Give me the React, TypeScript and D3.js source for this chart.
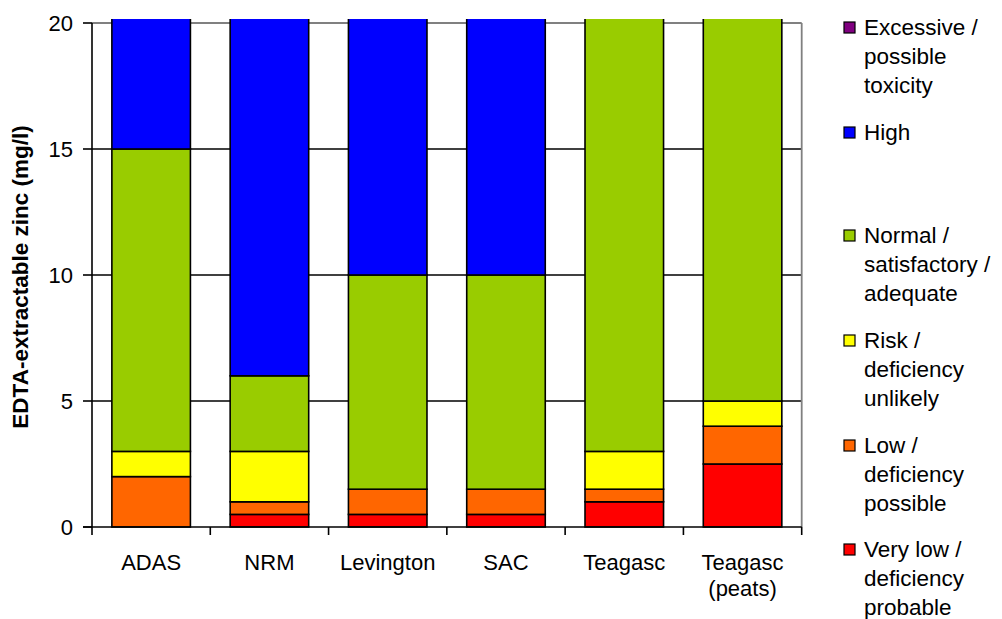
import React from "react";
import * as d3 from "d3";

const categories = ["ADAS", "NRM", "Levington", "SAC", "Teagasc", "Teagasc (peats)"];
const veryLow = [0, 0.5, 0.5, 0.5, 1, 2.5];
const low = [2, 0.5, 1, 1, 0.5, 1.5];
const risk = [1, 2, 0, 0, 1.5, 1];
const normal = [12, 3, 8.5, 8.5, 19, 17];
const high = [10, 19, 15, 15, 0, 0];
const excessive = [0, 0, 0, 0, 0, 0];
const yTicks = [0, 5, 10, 15, 20];

const seriesNames = [
  "Very low / deficiency probable",
  "Low / deficiency possible",
  "Risk / deficiency unlikely",
  "Normal / satisfactory / adequate",
  "High",
  "Excessive / possible toxicity",
];
const seriesValues = [veryLow, low, risk, normal, high, excessive];
const seriesColors = ["#FF0000", "#FF6600", "#FFFF00", "#99CC00", "#0000FF", "#800080"];

const legendItems = [
  { name: "Excessive / possible toxicity", lines: ["Excessive /", "possible", "toxicity"], color: "#800080" },
  { name: "High", lines: ["High"], color: "#0000FF" },
  { name: "Normal / satisfactory / adequate", lines: ["Normal /", "satisfactory /", "adequate"], color: "#99CC00" },
  { name: "Risk / deficiency unlikely", lines: ["Risk /", "deficiency", "unlikely"], color: "#FFFF00" },
  { name: "Low / deficiency possible", lines: ["Low /", "deficiency", "possible"], color: "#FF6600" },
  { name: "Very low / deficiency probable", lines: ["Very low /", "deficiency", "probable"], color: "#FF0000" },
];
const legendBaselines = [35, 140, 243, 348, 453, 557];

const W = 1002;
const H = 619;
const left = 92;
const right = 801.7;
const top = 23;
const bottom = 527;
const FONT = "Arial, 'Liberation Sans', sans-serif";

export default function App() {
  const x = d3.scaleBand<string>().domain(categories).range([left, right]).paddingInner(0.336).paddingOuter(0.168);
  const y = d3.scaleLinear().domain([0, 20]).range([bottom, top]);

  const rows = categories.map((c, i) => {
    const r: any = { cat: c };
    seriesNames.forEach((s, k) => (r[s] = seriesValues[k][i]));
    return r;
  });
  const stack = d3.stack<any>().keys(seriesNames)(rows);

  const clipTop = y(20) - 4;

  return (
    <svg width={W} height={H} style={{ position: "absolute", left: 0, top: 0, background: "#fff" }}>
      <defs>
        <clipPath id="plotclip">
          <rect x={0} y={clipTop} width={W} height={bottom - clipTop + 2} />
        </clipPath>
      </defs>
      {/* gridlines */}
      {yTicks.filter((t) => t > 0 && t < 20).map((t) => (
        <line key={t} x1={left} x2={right} y1={y(t)} y2={y(t)} stroke="#000" strokeWidth={1.6} />
      ))}
      <line x1={left} x2={right} y1={y(20)} y2={y(20)} stroke="#808080" strokeWidth={1.8} />
      <line x1={right} x2={right} y1={y(20)} y2={bottom} stroke="#808080" strokeWidth={1.8} />
      {/* bars */}
      <g clipPath="url(#plotclip)">
        {stack.map((layer, k) =>
          layer.map((d, i) => {
            const v = d[1] - d[0];
            if (v <= 0) return null;
            return (
              <rect
                key={k + "-" + i}
                x={x(categories[i])}
                width={x.bandwidth()}
                y={y(d[1])}
                height={y(d[0]) - y(d[1])}
                fill={seriesColors[k]}
                stroke="#000"
                strokeWidth={1.6}
              />
            );
          })
        )}
      </g>
      {/* axes */}
      <line x1={left} x2={left} y1={y(20)} y2={bottom} stroke="#000" strokeWidth={1.6} />
      <line x1={left - 9} x2={right} y1={bottom} y2={bottom} stroke="#000" strokeWidth={1.6} />
      {yTicks.map((t) => (
        <g key={t}>
          <line x1={left - 9} x2={left} y1={y(t)} y2={y(t)} stroke="#000" strokeWidth={1.6} />
          <text x={73} y={y(t)} dy="0.36em" textAnchor="end" fontFamily={FONT} fontSize={22} fill="#000">
            {t}
          </text>
        </g>
      ))}
      {categories.map((c, i) => {
        const x0 = left + i * x.step();
        return <line key={"t" + i} x1={x0} x2={x0} y1={bottom} y2={bottom + 8} stroke="#000" strokeWidth={1.6} />;
      })}
      <line x1={right} x2={right} y1={bottom} y2={bottom + 8} stroke="#000" strokeWidth={1.6} />
      {categories.map((c) => {
        const lines = c === "Teagasc (peats)" ? ["Teagasc", "(peats)"] : [c];
        return (
          <text key={c} x={(x(c) as number) + x.bandwidth() / 2} y={570} textAnchor="middle" fontFamily={FONT} fontSize={22} fill="#000">
            {lines.map((l, j) => (
              <tspan key={j} x={(x(c) as number) + x.bandwidth() / 2} dy={j === 0 ? 0 : 26}>
                {l}
              </tspan>
            ))}
          </text>
        );
      })}
      {/* y title */}
      <text
        transform={`translate(28, ${(top + bottom) / 2 + 2}) rotate(-90)`}
        textAnchor="middle"
        fontFamily={FONT}
        fontSize={22.5}
        fontWeight="bold"
        fill="#000"
      >
        EDTA-extractable zinc (mg/l)
      </text>
      {/* legend */}
      {legendItems.map((it, i) => {
        const b = legendBaselines[i];
        return (
          <g key={it.name}>
            <rect x={844} y={b - 13} width={11} height={11} fill={it.color} stroke="#000" strokeWidth={1.2} />
            <text x={864} y={b} fontFamily={FONT} fontSize={22.5} fill="#000">
              {it.lines.map((l, j) => (
                <tspan key={j} x={864} dy={j === 0 ? 0 : 29}>
                  {l}
                </tspan>
              ))}
            </text>
          </g>
        );
      })}
    </svg>
  );
}
